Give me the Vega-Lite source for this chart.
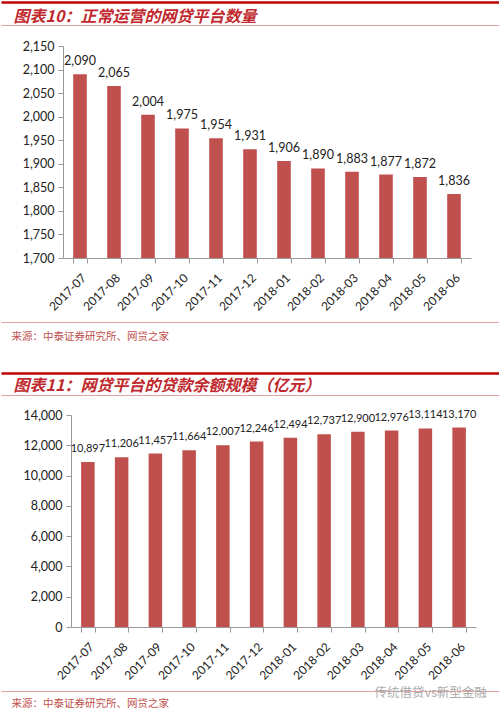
{
  "$schema": "https://vega.github.io/schema/vega-lite/v6.json",
  "padding": {"top": 2, "left": 0, "right": 0, "bottom": 0},
  "spacing": 31,
  "background": "white",
  "config": {
    "view": {"stroke": null},
    "axis": {"grid": false, "labelFont": "Lato", "titleFont": "Noto Sans CJK SC", "labelColor": "#222", "domainColor": "#999", "tickColor": "#999"}
  },
  "datasets": {
    "platforms": [
      {"month": "2017-07", "count": 2090},
      {"month": "2017-08", "count": 2065},
      {"month": "2017-09", "count": 2004},
      {"month": "2017-10", "count": 1975},
      {"month": "2017-11", "count": 1954},
      {"month": "2017-12", "count": 1931},
      {"month": "2018-01", "count": 1906},
      {"month": "2018-02", "count": 1890},
      {"month": "2018-03", "count": 1883},
      {"month": "2018-04", "count": 1877},
      {"month": "2018-05", "count": 1872},
      {"month": "2018-06", "count": 1836}
    ],
    "loans": [
      {"month": "2017-07", "balance": 10897},
      {"month": "2017-08", "balance": 11206},
      {"month": "2017-09", "balance": 11457},
      {"month": "2017-10", "balance": 11664},
      {"month": "2017-11", "balance": 12007},
      {"month": "2017-12", "balance": 12246},
      {"month": "2018-01", "balance": 12494},
      {"month": "2018-02", "balance": 12737},
      {"month": "2018-03", "balance": 12900},
      {"month": "2018-04", "balance": 12976},
      {"month": "2018-05", "balance": 13114},
      {"month": "2018-06", "balance": 13170}
    ]
  },
  "vconcat": [
    {
      "data": {"name": "platforms"},
      "width": 499,
      "height": 212,
      "resolve": {"scale": {"x": "independent"}, "axis": {"x": "independent", "y": "independent"}},
      "layer": [
        {
          "mark": {"type": "bar", "color": "#C0504D"},
          "encoding": {
            "x": {
              "field": "month", "type": "nominal", "sort": null,
              "scale": {"range": [62, 470], "paddingInner": 0.6, "paddingOuter": 0.3},
              "axis": {"title": null, "labelAngle": -45, "labelFontSize": 12, "tickBand": "extent", "tickSize": 5, "labelPadding": 9}
            },
            "y": {
              "field": "count", "type": "quantitative",
              "scale": {"domain": [1700, 2150], "zero": false, "nice": false},
              "axis": {"title": null, "orient": "left", "offset": -62, "values": [1700, 1750, 1800, 1850, 1900, 1950, 2000, 2050, 2100, 2150], "format": ",.0f", "labelFontSize": 12.5, "tickSize": 5, "labelPadding": 4}
            },
            "y2": {"datum": 1700}
          }
        },
        {
          "mark": {"type": "text", "font": "Lato", "fontSize": 12.5, "baseline": "middle", "dy": -13, "color": "#222"},
          "encoding": {
            "x": {"field": "month", "type": "nominal", "sort": null, "scale": {"range": [62, 470], "paddingInner": 0.6, "paddingOuter": 0.3}, "axis": null},
            "y": {"field": "count", "type": "quantitative", "axis": null},
            "text": {"field": "count", "format": ","}
          }
        },
        {
          "mark": {"type": "tick", "opacity": 0},
          "encoding": {
            "x": {"field": "month", "type": "nominal", "sort": null, "axis": {"orient": "top", "offset": 44, "labels": false, "ticks": false, "domainColor": "#C00000", "domainWidth": 2.5, "title": null}},
            "y": {"field": "count", "type": "quantitative", "axis": null}
          }
        },
        {
          "mark": {"type": "tick", "opacity": 0},
          "encoding": {
            "x": {"field": "month", "type": "nominal", "sort": null, "axis": {"orient": "top", "offset": 21, "labels": false, "ticks": false, "domainColor": "#E3A3A3", "domainWidth": 1, "title": "图表10：正常运营的网贷平台数量", "titleFontSize": 16, "titleFontWeight": "bold", "titleFontStyle": "italic", "titleColor": "#C0282D", "titleAngle": 0, "titleAlign": "left", "titleBaseline": "middle", "titleX": 12, "titleY": -9}},
            "y": {"field": "count", "type": "quantitative", "axis": null}
          }
        },
        {
          "mark": {"type": "tick", "opacity": 0},
          "encoding": {
            "x": {"field": "month", "type": "nominal", "sort": null, "axis": {"orient": "bottom", "offset": 64, "labels": false, "ticks": false, "domainColor": "#E3A3A3", "domainWidth": 1, "title": "来源：中泰证券研究所、网贷之家", "titleFontSize": 10.5, "titleFontWeight": "normal", "titleColor": "#C0504D", "titleAngle": 0, "titleAlign": "left", "titleBaseline": "middle", "titleX": 10, "titleY": 14}},
            "y": {"field": "count", "type": "quantitative", "axis": null}
          }
        }
      ]
    },
    {
      "data": {"name": "loans"},
      "width": 499,
      "height": 212,
      "resolve": {"scale": {"x": "independent"}, "axis": {"x": "independent", "y": "independent"}},
      "layer": [
        {
          "mark": {"type": "bar", "color": "#C0504D"},
          "encoding": {
            "x": {
              "field": "month", "type": "nominal", "sort": null,
              "scale": {"range": [70, 475], "paddingInner": 0.6, "paddingOuter": 0.3},
              "axis": {"title": null, "labelAngle": -45, "labelFontSize": 12, "tickBand": "extent", "tickSize": 5, "labelPadding": 9}
            },
            "y": {
              "field": "balance", "type": "quantitative",
              "scale": {"domain": [0, 14000], "nice": false},
              "axis": {"title": null, "orient": "left", "offset": -70, "values": [0, 2000, 4000, 6000, 8000, 10000, 12000, 14000], "format": ",.0f", "labelFontSize": 12.5, "tickSize": 5, "labelPadding": 4}
            }
          }
        },
        {
          "mark": {"type": "text", "font": "Lato", "fontSize": 11, "baseline": "middle", "dy": -13, "color": "#222"},
          "encoding": {
            "x": {"field": "month", "type": "nominal", "sort": null, "scale": {"range": [70, 475], "paddingInner": 0.6, "paddingOuter": 0.3}, "axis": null},
            "y": {"field": "balance", "type": "quantitative", "axis": null},
            "text": {"field": "balance", "format": ","}
          }
        },
        {
          "mark": {"type": "tick", "opacity": 0},
          "encoding": {
            "x": {"field": "month", "type": "nominal", "sort": null, "axis": {"orient": "top", "offset": 42, "labels": false, "ticks": false, "domainColor": "#C00000", "domainWidth": 2.5, "title": null}},
            "y": {"field": "balance", "type": "quantitative", "axis": null}
          }
        },
        {
          "mark": {"type": "tick", "opacity": 0},
          "encoding": {
            "x": {"field": "month", "type": "nominal", "sort": null, "axis": {"orient": "top", "offset": 20, "labels": false, "ticks": false, "domainColor": "#E3A3A3", "domainWidth": 1, "title": "图表11：网贷平台的贷款余额规模（亿元）", "titleFontSize": 16, "titleFontWeight": "bold", "titleFontStyle": "italic", "titleColor": "#C0282D", "titleAngle": 0, "titleAlign": "left", "titleBaseline": "middle", "titleX": 12, "titleY": -10}},
            "y": {"field": "balance", "type": "quantitative", "axis": null}
          }
        },
        {
          "mark": {"type": "tick", "opacity": 0},
          "encoding": {
            "x": {"field": "month", "type": "nominal", "sort": null, "axis": {"orient": "bottom", "offset": 64, "labels": false, "ticks": false, "domainColor": "#E3A3A3", "domainWidth": 1, "title": "来源：中泰证券研究所、网贷之家", "titleFontSize": 10.5, "titleFontWeight": "normal", "titleColor": "#C0504D", "titleAngle": 0, "titleAlign": "left", "titleBaseline": "middle", "titleX": 10, "titleY": 12}},
            "y": {"field": "balance", "type": "quantitative", "axis": null}
          }
        },
        {
          "mark": {"type": "tick", "opacity": 0},
          "encoding": {
            "x": {"field": "month", "type": "nominal", "sort": null, "axis": {"orient": "bottom", "offset": 64, "labels": false, "ticks": false, "domain": false, "title": "传统借贷vs新型金融", "titleFontSize": 12.5, "titleFontWeight": "normal", "titleColor": "#AAAAAA", "titleAngle": 0, "titleAlign": "left", "titleBaseline": "middle", "titleX": 373, "titleY": 1}},
            "y": {"field": "balance", "type": "quantitative", "axis": null}
          }
        }
      ]
    }
  ]
}
